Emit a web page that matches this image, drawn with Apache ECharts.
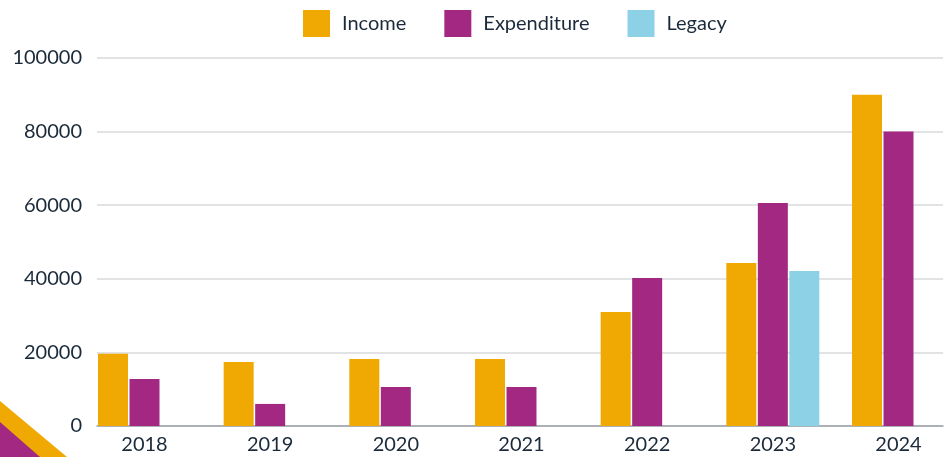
<!DOCTYPE html>
<html>
<head>
<meta charset="utf-8">
<script src="https://cdn.jsdelivr.net/npm/echarts@6/dist/echarts.min.js"></script>
<style>
html,body{margin:0;padding:0;background:#fff;}
#c{width:950px;height:457px;}
</style>
</head>
<body>
<div id="c"></div>
<script>
var categories = ['2018','2019','2020','2021','2022','2023','2024'];
var income = [19600, 17400, 18200, 18200, 31000, 44300, 90000];
var expenditure = [12800, 6000, 10600, 10600, 40200, 60600, 80000];
var legacy = [null, null, null, null, null, 42100, null];
var yTicks = {min: 0, max: 100000, interval: 20000};

var textColor = '#1b2a3a';
var font = 'Lato';
var chart = echarts.init(document.getElementById('c'), null, {renderer: 'canvas'});
chart.setOption({
  animation: false,
  backgroundColor: '#ffffff',
  textStyle: {fontFamily: font},
  legend: {
    top: 5, left: 298,
    itemWidth: 27, itemHeight: 27, itemGap: 38,
    icon: 'rect',
    textStyle: {fontFamily: font, fontSize: 20, color: textColor, padding: [0, 0, 0, 7]},
    data: ['Income', 'Expenditure', 'Legacy']
  },
  grid: [
    {left: 97, right: 7, top: 58, bottom: 31},
    {left: 144.5, right: 51.5, top: 58, bottom: 31}
  ],
  xAxis: [
    {type: 'category', gridIndex: 0, data: categories,
     axisLine: {show: true, lineStyle: {color: '#9aa1a8', width: 1.5}},
     axisTick: {show: false}, axisLabel: {show: false}, splitLine: {show: false}},
    {type: 'category', gridIndex: 1, data: categories, boundaryGap: false,
     axisLine: {show: false}, axisTick: {show: false},
     axisLabel: {color: textColor, fontSize: 20, fontFamily: font, margin: 9},
     splitLine: {show: false}}
  ],
  yAxis: [
    {type: 'value', gridIndex: 0, min: yTicks.min, max: yTicks.max, interval: yTicks.interval,
     axisLine: {show: false}, axisTick: {show: false},
     axisLabel: {color: textColor, fontSize: 20, fontFamily: font, margin: 15,
                 formatter: function (v) { return String(v); }},
     splitLine: {lineStyle: {color: '#d9dadc', width: 1.5}}},
    {type: 'value', gridIndex: 1, min: yTicks.min, max: yTicks.max, interval: yTicks.interval,
     show: false, splitLine: {show: false}}
  ],
  series: [
    {name: 'Income', type: 'bar', xAxisIndex: 1, yAxisIndex: 1, data: income, clip: false,
     barWidth: 30, barGap: '5%', itemStyle: {color: '#efa902'}},
    {name: 'Expenditure', type: 'bar', xAxisIndex: 1, yAxisIndex: 1, data: expenditure, clip: false,
     barWidth: 30, barGap: '5%', itemStyle: {color: '#a32882'}},
    {name: 'Legacy', type: 'bar', xAxisIndex: 1, yAxisIndex: 1, data: legacy, clip: false,
     barWidth: 30, barGap: '5%', itemStyle: {color: '#8dd1e6'}}
  ],
  graphic: [
    {type: 'polygon', shape: {points: [[0, 401], [67, 457], [0, 457]]}, style: {fill: '#efa902'}, z: 100},
    {type: 'polygon', shape: {points: [[0, 422], [40, 457], [0, 457]]}, style: {fill: '#a32882'}, z: 101}
  ]
});
</script>
</body>
</html>
